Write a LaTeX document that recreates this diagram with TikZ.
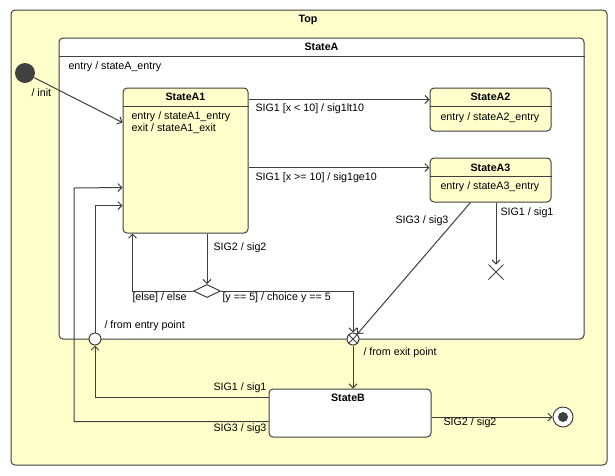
\documentclass[tikz,border=0pt]{standalone}
\usepackage{fontspec}
\setmainfont{Liberation Sans}
\usetikzlibrary{arrows.meta,shapes.geometric,shapes.misc}
\definecolor{stfill}{RGB}{255,255,204}
\definecolor{stline}{RGB}{64,64,64}

\begin{document}
\begin{tikzpicture}[x=1pt,y=-1pt,line width=1pt,
        every node/.style={font=\fontsize{10.7}{12}\selectfont},
        ststate/.style={draw=stline, rounded corners=4pt, inner sep=0pt},
        sttitle/.style={font=\fontsize{10.7}{12}\selectfont\bfseries},
        trlabel/.style={anchor=west, inner sep=0pt},
        pseudo/.style={circle, draw=stline, fill=white, inner sep=0pt, minimum size=12pt},
        trans/.style={draw=stline, -{Straight Barb[length=4pt,width=8pt]}}]
        \useasboundingbox (0,0) rectangle (615,475);

        %STATES
        \node[ststate, fill=stfill, minimum width=596pt, minimum height=455pt] (top) at (309,237.5) {};
        \node[sttitle] at (308,20) {Top};

        \node[ststate, fill=white, minimum width=525pt, minimum height=301pt] (stA) at (321.5,188.5) {};
        \node[sttitle] at (321.5,47) {StateA};
        \draw[stline] ([yshift=-19pt]stA.north west) -- ([yshift=-19pt]stA.north east);
        \node[trlabel] at (68,67) {entry / stateA\_entry};

        \node[ststate, fill=stfill, minimum width=125pt, minimum height=145pt] (stA1) at (185.5,160.5) {};
        \node[sttitle] at (185.5,97) {StateA1};
        \draw[stline] ([yshift=-19pt]stA1.north west) -- ([yshift=-19pt]stA1.north east);
        \node[trlabel] at (131,117) {entry / stateA1\_entry};
        \node[trlabel] at (131,129) {exit / stateA1\_exit};

        \node[ststate, fill=stfill, minimum width=121pt, minimum height=43pt] (stA2) at (490.5,109.5) {};
        \node[sttitle] at (490.5,97) {StateA2};
        \draw[stline] ([yshift=-19pt]stA2.north west) -- ([yshift=-19pt]stA2.north east);
        \node[trlabel] at (440,118) {entry / stateA2\_entry};

        \node[ststate, fill=stfill, minimum width=121pt, minimum height=44pt] (stA3) at (490.5,180) {};
        \node[sttitle] at (490.5,168) {StateA3};
        \draw[stline] ([yshift=-19pt]stA3.north west) -- ([yshift=-19pt]stA3.north east);
        \node[trlabel] at (440,187) {entry / stateA3\_entry};

        \node[ststate, fill=white, minimum width=162pt, minimum height=48pt] (stB) at (350,413) {};
        \node[sttitle] at (348,398) {StateB};

        %PSEUDOSTATES
        \node[circle, fill=stline, inner sep=0pt, minimum size=20pt] (init) at (25,73) {};
        \node[pseudo, minimum size=20pt] (final) at (563,417) {};
        \fill[stline] (final) circle (5pt);
        \node[diamond, draw=stline, fill=white, inner sep=0pt, minimum width=27pt, minimum height=13pt] (choice) at (207,291) {};
        \node[cross out, draw=stline, inner sep=0pt, minimum size=14pt] (term) at (496,272) {};
        \node[pseudo] (entrypt) at (95,339) {};
        \node[pseudo] (exitpt) at (353,339) {};
        \draw[stline] (exitpt.north west) -- (exitpt.south east)
                      (exitpt.north east) -- (exitpt.south west);
        \coordinate (sig3turn) at (74,188);

        %TRANSITIONS
        \draw[trans] (init) -- ([yshift=-35pt]stA1.north west);
        \draw[trans] ([yshift=-12pt]stA1.north east) -- ([yshift=-12pt]stA2.north west);
        \draw[trans] ([yshift=-80pt]stA1.north east) -- ([yshift=-10pt]stA3.north west);
        \draw[trans] ([xshift=-20pt]stA3.south) -- (exitpt);
        \draw[trans] (term.north |- stA3.south) -- (term.north);
        \draw[trans] (choice.north |- stA1.south) -- (choice.north);
        \draw[trans] (choice.west) -| ([xshift=10pt]stA1.south west);
        \draw[trans] (choice.east) -| (exitpt.north);
        \draw[trans] (exitpt.south) -- (exitpt |- stB.north);
        \draw[trans] (stB.east |- final) -- (final);
        \draw[trans] ([yshift=-9pt]stB.north west) -| (entrypt.south);
        \draw[trans] ([yshift=-33pt]stB.north west) -| (sig3turn) -- ([yshift=-100pt]stA1.north west);
        \draw[trans] (entrypt.north) |- ([yshift=-118pt]stA1.north west);

        %LABELS
        \node[trlabel] at (31,93) {/ init};
        \node[trlabel] at (255,109) {SIG1 [x < 10] / sig1lt10};
        \node[trlabel] at (255,178) {SIG1 [x >= 10] / sig1ge10};
        \node[trlabel] at (395,221) {SIG3 / sig3};
        \node[trlabel] at (500,213) {SIG1 / sig1};
        \node[trlabel] at (213,248) {SIG2 / sig2};
        \node[trlabel] at (132,298) {[else] / else};
        \node[trlabel] at (222,298) {[y == 5] / choice y == 5};
        \node[trlabel] at (104,326) {/ from entry point};
        \node[trlabel] at (363,353) {/ from exit point};
        \node[trlabel] at (213,388) {SIG1 / sig1};
        \node[trlabel] at (213,429) {SIG3 / sig3};
        \node[trlabel] at (443,423) {SIG2 / sig2};
    \end{tikzpicture}
\end{document}
